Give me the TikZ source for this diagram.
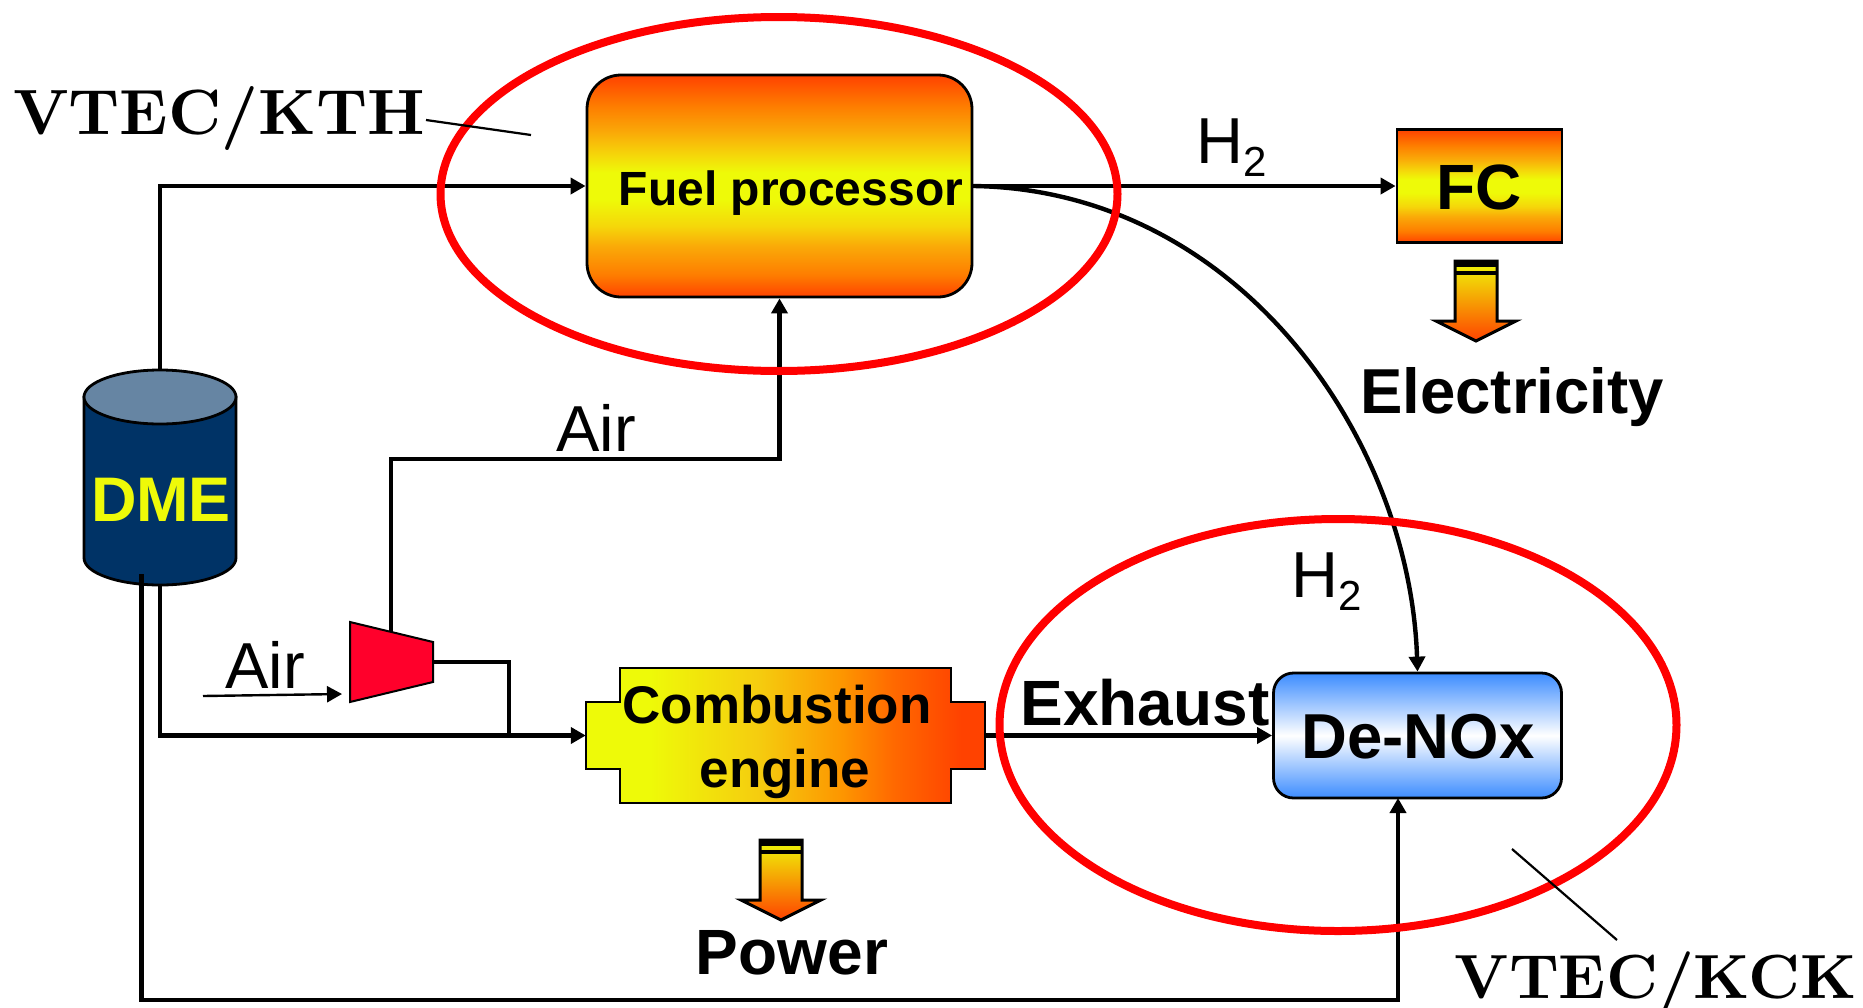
\documentclass[tikz,border=0pt]{standalone}
\usepackage{fontspec}
\setmainfont{Liberation Sans}
\newfontfamily\cmbold{lmroman10-bold.otf}
\usetikzlibrary{arrows.meta}
\definecolor{hot}{RGB}{255,66,0}
\definecolor{yel}{RGB}{238,250,8}
\definecolor{engA}{RGB}{245,205,15}
\definecolor{engB}{RGB}{253,150,0}
\definecolor{engC}{RGB}{255,105,0}
\definecolor{orA}{RGB}{254,125,0}
\definecolor{orB}{RGB}{250,170,8}
\definecolor{orC}{RGB}{245,215,10}
\definecolor{ringred}{RGB}{255,0,0}
\definecolor{tanknavy}{RGB}{0,51,102}
\definecolor{tanktop}{RGB}{102,133,163}
\definecolor{compred}{RGB}{255,0,43}
\definecolor{skyblue}{RGB}{60,140,255}
\pgfdeclareverticalshading{fuelshade}{100bp}{color(0bp)=(hot);color(25bp)=(hot);color(30bp)=(orA);color(36.5bp)=(orB);color(41bp)=(orC);color(47bp)=(yel);color(53bp)=(yel);color(57bp)=(orC);color(62bp)=(orB);color(68bp)=(orA);color(75bp)=(hot);color(100bp)=(hot)}
\pgfdeclarehorizontalshading{engshade}{100bp}{color(0bp)=(yel);color(25bp)=(yel);color(33bp)=(yel);color(46.5bp)=(engA);color(57bp)=(engB);color(63.5bp)=(engC);color(72bp)=(hot);color(75bp)=(hot);color(100bp)=(hot)}
\tikzset{
  x=1pt,y=-1pt,
  flow/.style={line width=4.8pt,-{Triangle[length=15pt,width=16pt]},line join=miter},
  plainflow/.style={line width=4.8pt,line join=miter},
  thinflow/.style={line width=2.4pt,-{Triangle[length=15pt,width=16pt]}},
  leader/.style={line width=2.2pt},
  ring/.style={draw=ringred,line width=8pt},
  hotbox/.style={draw=black,line width=2.8pt,shading=fuelshade,inner sep=0pt},
  boldtext/.style={font=\fontsize{#1}{#1}\selectfont\bfseries,inner sep=0pt,anchor=base},
  regtext/.style={font=\fontsize{65}{65}\selectfont,inner sep=0pt,anchor=base},
  cmtext/.style={font=\fontsize{#1}{#1}\cmbold,inner sep=0pt,anchor=base},
  output/.pic={
    \path[top color=yel,bottom color=hot] (-21,0)--(21,0)--(21,60)--(40,60)--(0,80)--(-40,60)--(-21,60)--cycle;
    \draw[line width=3pt,line join=miter] (-21,0)--(21,0)--(21,60)--(40,60)--(0,80)--(-40,60)--(-21,60)--cycle;
    \fill[black] (-21,0) rectangle (21,6);
    \fill[black] (-21,10) rectangle (21,14);
  }
}
\begin{document}
\begin{tikzpicture}
\useasboundingbox (0,0) rectangle (1863,1007);
% connectors underneath
\node[minimum width=152pt,minimum height=215pt,inner sep=0pt] (dme) at (160,477.5) {};
\node[hotbox,rounded corners=34pt,minimum width=385pt,minimum height=222pt] (fuel) at (779.5,186) {};
\node[hotbox,minimum width=165pt,minimum height=113pt] (fc) at (1479.5,186) {};
\node[draw=black,line width=2.8pt,rounded corners=20pt,top color=skyblue,bottom color=skyblue,middle color=white,minimum width=288pt,minimum height=125pt,inner sep=0pt] (denox) at (1417.5,735.5) {};
\node[minimum width=400pt,minimum height=135pt,inner sep=0pt] (engine) at (786,735.5) {};
\coordinate (dmeA) at (160,585);
\coordinate (dmeB) at (141.5,574);
\coordinate (compTop) at (391,632);
\coordinate (compOut) at (433,662);
\coordinate (compIn) at (342,694);
\coordinate (airStart) at (203,696);
\draw[flow] (dme.north) |- (fuel.west);
\draw[flow] (compTop) |- (779.5,459) -- (fuel.south);
\draw[flow] (dmeA) |- (engine.west);
\draw[plainflow] (compOut) -| (509,736);
\draw[flow] (dmeB) |- (1398,1000) -- (1398,798);
\draw[flow] (fuel.east) -- (fc.west);
\draw[flow] (engine.east) -- (denox.west);
\draw[line width=4.4pt,-{Triangle[length=15pt,width=16pt]}] (fuel.east) .. controls (1240,190) and (1410,440) .. (denox.north);
\draw[thinflow] (airStart) -- (compIn);
% tank
\path[fill=tanknavy,draw=black,line width=2.8pt] (84,397) -- (84,558) arc[start angle=180,end angle=360,x radius=76,y radius=-27] -- (236,397) -- cycle;
\draw[fill=tanktop,line width=2.8pt] (160,397) ellipse[x radius=76,y radius=27];
\draw[line width=4.8pt] (141.5,574) -- (141.5,590);
\node[boldtext=63,text=yel] (dmetext) at (161,521) {DME};
% compressor
\draw[fill=compred,line width=2pt] (350,622)--(433,642)--(433,682)--(350,702)--cycle;
% engine shape
\path[shading=engshade,draw=black,line width=2.8pt] (586,702)--(620,702)--(620,668)--(951,668)--(951,702)--(985,702)--(985,769)--(951,769)--(951,803)--(620,803)--(620,769)--(586,769)--cycle;
% outputs
\pic at (1476,261) {output};
\pic at (781,840) {output};
% rings
\draw[ring] (779,194) ellipse[x radius=338.5,y radius=177];
\draw[ring] (1338,725) ellipse[x radius=338.5,y radius=206];
% labels
\node[boldtext=48] (fueltext) at (791,205) {Fuel processor};
\node[boldtext=64] (fctext) at (1479,209) {FC};
\node[boldtext=63.5] (electext) at (1512,413) {Electricity};
\node[boldtext=53] (comb1) at (777,723) {Combustion};
\node[boldtext=53] (comb2) at (785,787) {engine};
\node[boldtext=64] (powertext) at (792,974) {Power};
\node[boldtext=64] (exh) at (1145,725) {Exhaust};
\node[boldtext=63.5] (dn) at (1418,758) {De-NOx};
\node[regtext] (air1) at (596,451) {Air};
\node[regtext] (air2) at (265,688) {Air};
\node[regtext] (h1) at (1232,163) {H\raisebox{-13pt}{\fontsize{42}{42}\selectfont 2}};
\node[regtext] (h2) at (1327,597) {H\raisebox{-13pt}{\fontsize{42}{42}\selectfont 2}};
\node[cmtext=64] (kth) at (219,134) {VTEC/KTH};
\node[cmtext=62.4] (kck) at (1655.5,998) {VTEC/KCK};
\draw[leader] (426,120) -- (531,135);
\draw[leader] (1512,849) -- (1617,940);
\end{tikzpicture}
\end{document}
